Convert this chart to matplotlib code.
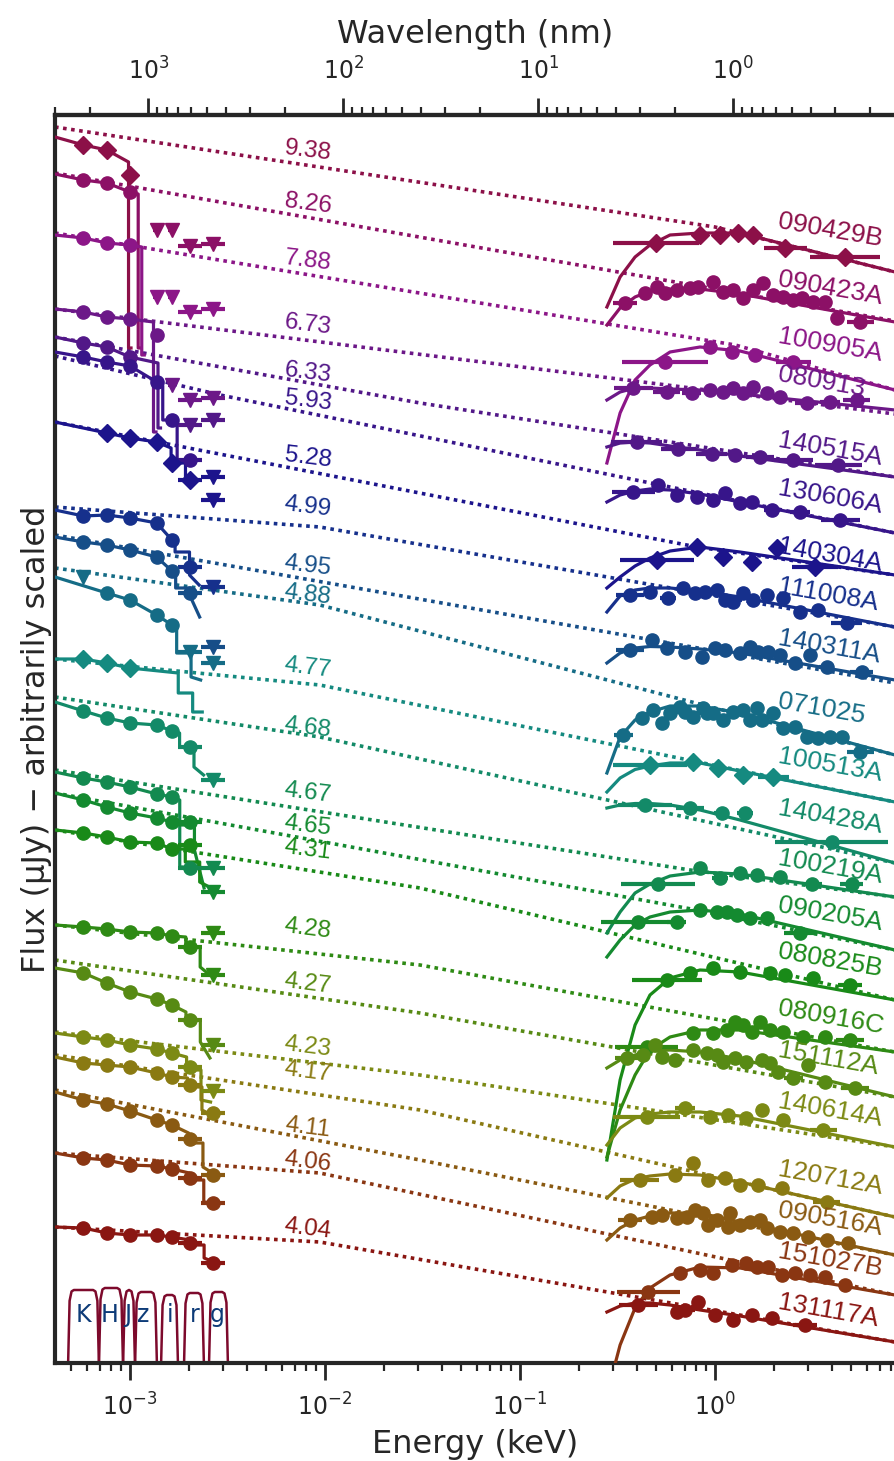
import numpy as np
import matplotlib
matplotlib.use("Agg")
import matplotlib.pyplot as plt

# ------------------------------------------------------------------ data
NAMES = ['090429B', '090423A', '100905A', '080913', '140515A', '130606A',
         '140304A', '111008A', '140311A', '071025', '100513A', '140428A',
         '100219A', '090205A', '080825B', '080916C', '151112A', '140614A',
         '120712A', '090516A', '151027B', '131117A']
REDSHIFTS = [9.38, 8.26, 7.88, 6.73, 6.33, 5.93, 5.28, 4.99, 4.95, 4.88, 4.77,
             4.68, 4.67, 4.65, 4.31, 4.28, 4.27, 4.23, 4.17, 4.11, 4.06, 4.04]
COLORS = ['#8c1048', '#8c1066', '#8c1688', '#6c1888', '#521888', '#37158a',
          '#1c148c', '#16308c', '#164e88', '#156c86', '#158a80', '#138a68',
          '#138a50', '#148a30', '#198a18', '#2e8a14', '#578a14', '#7c8a14',
          '#8a7a12', '#8a5a12', '#8a3612', '#8a1612']
MARKERS = ['D', 'o', 'o', 'o', 'o', 'o', 'D', 'o', 'o', 'o', 'D', 'o',
           'o', 'o', 'o', 'o', 'o', 'o', 'o', 'o', 'o', 'o']

# GROND filters (energy in keV)
FILTERS = ['K', 'H', 'J', 'z', 'i', 'r', 'g']
FILT_E = [5.77e-4, 7.6e-4, 1.0e-3, 1.37e-3, 1.64e-3, 2.03e-3, 2.67e-3]
FILT_HALFWIDTH = [0.0, 0.0, 0.0, 0.02, 0.02, 0.062, 0.06]   # dex
FILT_LO = [4.81e-4, 6.93e-4, 9.21e-4, 1.061e-3, 1.442e-3, 1.891e-3, 2.54e-3]
FILT_HI = [6.93e-4, 9.21e-4, 1.061e-3, 1.375e-3, 1.763e-3, 2.395e-3, 3.18e-3]
FILT_TOP = [0.72, 0.74, 0.72, 0.70, 0.67, 0.69, 0.70]
FILT_LABEL_E = [5.74e-4, 7.9e-4, 9.77e-4, 1.166e-3, 1.604e-3, 2.155e-3, 2.79e-3]

# optical/NIR photometry per burst: (filter index, scaled log flux, upper limit)
OPT = [
    [(0, 12.17, 0), (1, 12.12, 0), (2, 11.87, 0)],
    [(0, 11.82, 0), (1, 11.79, 0), (2, 11.70, 0), (3, 11.32, 1), (4, 11.32, 1), (5, 11.16, 1), (6, 11.18, 1)],
    [(0, 11.24, 0), (1, 11.19, 0), (2, 11.17, 0), (3, 10.65, 1), (4, 10.65, 1), (5, 10.50, 1), (6, 10.53, 1)],
    [(0, 10.50, 0), (1, 10.45, 0), (2, 10.43, 0), (3, 10.27, 0), (4, 9.77, 1), (5, 9.62, 1), (6, 9.64, 1)],
    [(0, 10.19, 0), (1, 10.15, 0), (2, 10.05, 0), (5, 9.37, 1), (6, 9.42, 1)],
    [(0, 10.05, 0), (1, 10.00, 0), (2, 9.96, 0), (3, 9.80, 0), (4, 9.42, 0), (5, 9.02, 0)],
    [(1, 9.29, 0), (2, 9.24, 0), (3, 9.20, 0), (4, 8.99, 0), (5, 8.82, 0), (6, 8.85, 1), (6, 8.62, 1)],
    [(0, 8.46, 0), (1, 8.47, 0), (2, 8.44, 0), (3, 8.39, 0), (4, 8.22, 0), (5, 7.95, 0), (6, 7.75, 1)],
    [(0, 8.20, 0), (1, 8.17, 0), (2, 8.12, 0), (3, 8.05, 0), (4, 7.91, 0), (5, 7.69, 0), (6, 7.15, 1)],
    [(0, 7.85, 1), (1, 7.69, 0), (2, 7.62, 0), (3, 7.47, 0), (4, 7.37, 0), (5, 7.10, 1), (6, 6.99, 1)],
    [(0, 7.03, 0), (1, 6.99, 0), (2, 6.94, 0)],
    [(0, 6.51, 0), (1, 6.44, 0), (2, 6.39, 0), (3, 6.37, 0), (4, 6.31, 0), (5, 6.15, 0), (6, 5.82, 1)],
    [(0, 5.84, 0), (1, 5.80, 0), (2, 5.75, 0), (3, 5.68, 0), (4, 5.65, 0), (5, 4.94, 0), (6, 4.94, 1)],
    [(0, 5.62, 0), (1, 5.55, 0), (2, 5.49, 0), (3, 5.44, 0), (4, 5.40, 0), (5, 5.40, 0), (6, 4.70, 1)],
    [(0, 5.29, 0), (1, 5.25, 0), (2, 5.20, 0), (3, 5.19, 0), (4, 5.13, 0), (5, 5.17, 0)],
    [(0, 4.35, 0), (1, 4.33, 0), (2, 4.30, 0), (3, 4.29, 0), (4, 4.26, 0), (5, 4.15, 0), (6, 4.29, 1), (6, 3.87, 1)],
    [(0, 3.89, 0), (1, 3.79, 0), (2, 3.70, 0), (3, 3.63, 0), (4, 3.57, 0), (5, 3.42, 0), (6, 3.17, 1)],
    [(0, 3.25, 0), (1, 3.22, 0), (2, 3.17, 0), (3, 3.13, 0), (4, 3.09, 0), (5, 2.95, 0), (6, 2.71, 1)],
    [(0, 2.99, 0), (1, 2.97, 0), (2, 2.95, 0), (3, 2.89, 0), (4, 2.85, 0), (5, 2.77, 0), (6, 2.49, 0)],
    [(0, 2.62, 0), (1, 2.58, 0), (2, 2.51, 0), (3, 2.42, 0), (4, 2.37, 0), (5, 2.23, 0), (6, 1.87, 0)],
    [(0, 2.04, 0), (1, 2.02, 0), (2, 1.97, 0), (3, 1.96, 0), (4, 1.93, 0), (5, 1.84, 0), (6, 1.59, 0)],
    [(0, 1.34, 0), (1, 1.29, 0), (2, 1.27, 0), (3, 1.27, 0), (4, 1.25, 0), (5, 1.19, 0), (6, 0.99, 0)],
]

# optical model: value at left edge, just below Ly-alpha, after Ly-alpha, after Ly-beta, end
OPT_MODEL = [
    (12.25, 12.00, 10.14, None, None), (11.88, 11.68, 10.14, None, None),
    (11.27, 11.15, 10.07, None, None), (10.53, 10.40, 9.30, None, None),
    (10.25, 9.99, 9.34, None, None), (10.10, 9.76, 9.42, 9.02, None),
    (9.40, 9.14, 8.99, 8.82, None), (8.52, 8.18, 8.10, 7.87, 7.77),
    (8.25, 7.88, 7.74, 7.66, 7.45), (7.85, 7.32, 7.09, 6.85, 6.82),
    (7.03, 6.89, 6.69, 6.50, 6.50), (6.60, 6.29, 6.15, 5.95, 5.87),
    (5.90, 5.62, 4.95, None, None), (5.69, 5.40, 5.37, 5.12, 4.74),
    (5.32, 5.13, 5.00, 4.80, 4.75), (4.37, 4.25, 4.15, 3.95, 3.87),
    (3.94, 3.50, 3.42, 3.20, 3.04), (3.29, 3.05, 2.92, 2.62, 2.60),
    (3.05, 2.84, 2.75, 2.52, 2.47), (2.70, 2.29, 2.19, 1.95, 1.89),
    (2.09, 1.89, 1.82, 1.60, 1.59), (1.35, 1.22, 1.17, 1.04, 1.00),
]

# intrinsic (unabsorbed) broken power law: left value, break energy, break value, right value
DOTTED = [
    (12.35, 1.0, 11.35, 10.90), (11.89, 1.0, 10.73, 10.41),
    (11.29, 1.27, 10.17, 9.72), (10.53, 1.0, 9.71, 9.48),
    (10.25, 0.0307, 9.59, 8.85), (10.06, 2.9e-3, 9.67, 8.29),
    (9.40, 0.808, 8.15, 7.87), (8.55, 9.4e-3, 8.35, 7.35),
    (8.27, 1.0, 7.11, 6.79), (7.94, 9.4e-3, 7.57, 6.07),
    (7.03, 9.4e-3, 6.77, 5.60), (6.65, 9.4e-3, 6.25, 4.99),
    (5.92, 0.745, 4.92, 4.65), (5.69, 0.806, 4.52, 4.12),
    (5.32, 0.0307, 4.74, 3.62), (4.37, 0.0307, 3.97, 3.10),
    (4.02, 0.0307, 3.49, 2.65), (3.30, 0.0307, 2.87, 2.15),
    (3.07, 0.0307, 2.52, 1.45), (2.72, 0.0307, 2.02, 1.07),
    (2.09, 9.4e-3, 1.89, 0.67), (1.35, 9.4e-3, 1.20, 0.20),
]

# absorbed X-ray model sampled at these energies (keV)
XM_E = [0.279, 0.326, 0.389, 0.464, 0.588, 0.838, 1.343, 8.375]
XMOD = [
    [10.55, 10.85, 11.05, 11.17, 11.27, 11.29, 11.29, 10.90],
    [10.37, 10.54, 10.65, 10.71, 10.73, 10.73, 10.68, 10.40],
    [8.99, 9.49, 9.82, 9.97, 10.10, 10.15, 10.11, 9.72],
    [9.62, 9.70, 9.74, 9.74, 9.73, 9.72, 9.68, 9.52],
    [9.15, 9.19, 9.20, 9.19, 9.16, 9.12, 9.06, 8.85],
    [8.60, 8.67, 8.71, 8.73, 8.72, 8.68, 8.60, 8.29],
    [7.74, 7.85, 7.96, 8.04, 8.11, 8.15, 8.10, 7.87],
    [7.50, 7.66, 7.72, 7.74, 7.74, 7.71, 7.65, 7.35],
    [6.99, 7.09, 7.14, 7.155, 7.15, 7.13, 7.09, 6.82],
    [5.89, 6.25, 6.42, 6.50, 6.56, 6.56, 6.49, 6.07],
    [5.70, 5.84, 5.925, 5.96, 5.99, 5.99, 5.91, 5.60],
    [5.54, 5.57, 5.585, 5.585, 5.57, 5.52, 5.42, 4.99],
    [4.29, 4.50, 4.69, 4.78, 4.86, 4.90, 4.88, 4.65],
    [4.05, 4.22, 4.37, 4.45, 4.50, 4.52, 4.48, 4.12],
    [2.02, 2.82, 3.37, 3.67, 3.84, 3.92, 3.90, 3.62],
    [2.05, 2.52, 2.87, 3.12, 3.25, 3.32, 3.32, 3.10],
    [2.94, 3.02, 3.07, 3.11, 3.12, 3.10, 3.03, 2.65],
    [2.17, 2.34, 2.44, 2.48, 2.50, 2.50, 2.46, 2.15],
    [1.64, 1.76, 1.83, 1.86, 1.88, 1.87, 1.80, 1.45],
    [1.22, 1.34, 1.42, 1.46, 1.49, 1.49, 1.40, 1.07],
    [-0.33, 0.17, 0.54, 0.74, 0.87, 0.95, 0.94, 0.67],
    [0.50, 0.56, 0.59, 0.59, 0.57, 0.52, 0.46, 0.20],
]

# X-ray data: energy (keV), scaled log flux, bin half-width (dex)
XR_E = [
    [0.50, 0.84, 1.06, 1.31, 1.57, 2.29, 4.65],
    [0.345, 0.438, 0.503, 0.554, 0.636, 0.745, 0.821, 0.980, 1.103, 1.241, 1.397, 1.572, 1.769, 1.990, 2.240, 2.519, 2.78, 3.19, 3.66, 4.21, 5.55],
    [0.554, 0.943, 1.218, 1.604, 2.52],
    [0.381, 0.565, 0.759, 0.943, 1.103, 1.241, 1.397, 1.572, 1.84, 2.155, 2.95, 3.89, 5.32],
    [0.397, 0.648, 0.961, 1.267, 1.70, 2.52, 4.29],
    [0.381, 0.512, 0.636, 0.806, 0.980, 1.125, 1.343, 1.542, 1.954, 2.73, 4.38],
    [0.503, 0.806, 1.103, 1.542, 2.07, 3.26],
    [0.367, 0.464, 0.576, 0.689, 0.790, 0.889, 1.02, 1.125, 1.241, 1.397, 1.572, 1.84, 2.24, 2.73, 3.39, 4.74],
    [0.367, 0.474, 0.565, 0.702, 0.855, 1.0, 1.125, 1.343, 1.512, 1.665, 1.87, 2.155, 2.574, 3.07, 3.73, 5.64],
    [0.339, 0.42, 0.483, 0.532, 0.588, 0.662, 0.702, 0.774, 0.871, 0.907, 0.98, 1.103, 1.241, 1.397, 1.512, 1.636, 1.735, 1.99, 2.24, 2.574, 2.95, 3.39, 3.89, 4.46, 5.55],
    [0.464, 0.774, 1.04, 1.397, 1.99],
    [0.438, 0.745, 1.08, 1.425, 3.96],
    [0.512, 0.838, 1.061, 1.343, 1.636, 2.155, 3.14, 5.02],
    [0.405, 0.636, 0.838, 1.02, 1.148, 1.292, 1.512, 1.84, 2.73],
    [0.565, 0.745, 0.98, 1.343, 1.915, 2.287, 3.19, 4.93],
    [0.446, 0.774, 0.98, 1.148, 1.267, 1.397, 1.542, 1.70, 1.915, 2.24, 2.84, 3.67, 4.93],
    [0.353, 0.429, 0.492, 0.532, 0.624, 0.774, 0.907, 1.02, 1.103, 1.267, 1.448, 1.735, 1.915, 2.11, 2.52, 3.01, 3.67, 5.23],
    [0.446, 0.702, 0.943, 1.17, 1.448, 1.735, 2.24, 3.6],
    [0.412, 0.624, 0.774, 0.925, 1.125, 1.343, 1.67, 2.2, 3.74],
    [0.367, 0.474, 0.532, 0.636, 0.718, 0.790, 0.871, 0.925, 1.02, 1.17, 1.194, 1.343, 1.512, 1.70, 1.84, 2.155, 2.52, 3.0, 3.74, 4.83],
    [0.455, 0.662, 0.838, 0.98, 1.218, 1.448, 1.636, 1.87, 2.2, 2.574, 3.07, 3.67, 4.65],
    [0.405, 0.636, 0.702, 0.821, 1.0, 1.241, 1.542, 1.954, 2.897],
]
XR_V = [
    [11.19, 11.27, 11.27, 11.29, 11.27, 11.14, 11.05],
    [10.59, 10.69, 10.75, 10.69, 10.72, 10.74, 10.75, 10.80, 10.70, 10.72, 10.64, 10.72, 10.79, 10.67, 10.65, 10.62, 10.64, 10.60, 10.60, 10.44, 10.40],
    [10.00, 10.15, 10.10, 10.07, 10.00],
    [9.74, 9.70, 9.69, 9.72, 9.70, 9.74, 9.69, 9.75, 9.69, 9.65, 9.59, 9.60, 9.62],
    [9.20, 9.13, 9.08, 9.07, 9.05, 9.02, 8.97],
    [8.70, 8.77, 8.67, 8.65, 8.62, 8.69, 8.59, 8.60, 8.52, 8.50, 8.42],
    [8.02, 8.15, 8.05, 8.00, 8.14, 7.95],
    [7.67, 7.70, 7.64, 7.74, 7.69, 7.70, 7.72, 7.62, 7.60, 7.69, 7.62, 7.67, 7.64, 7.50, 7.52, 7.39],
    [7.12, 7.22, 7.14, 7.10, 7.05, 7.14, 7.12, 7.09, 7.15, 7.10, 7.10, 7.07, 6.99, 7.07, 6.95, 6.90],
    [6.27, 6.44, 6.52, 6.39, 6.49, 6.55, 6.50, 6.45, 6.54, 6.49, 6.49, 6.42, 6.50, 6.52, 6.42, 6.54, 6.42, 6.49, 6.34, 6.35, 6.25, 6.24, 6.25, 6.25, 6.10],
    [5.97, 6.00, 5.94, 5.87, 5.85],
    [5.57, 5.54, 5.49, 5.49, 5.20],
    [4.78, 4.94, 4.84, 4.89, 4.87, 4.85, 4.78, 4.78],
    [4.40, 4.40, 4.52, 4.50, 4.50, 4.47, 4.44, 4.44, 4.29],
    [3.82, 3.89, 3.94, 3.90, 3.89, 3.87, 3.84, 3.77],
    [3.15, 3.29, 3.29, 3.32, 3.40, 3.37, 3.30, 3.40, 3.32, 3.30, 3.25, 3.25, 3.22],
    [3.04, 3.07, 3.17, 3.05, 3.02, 3.12, 3.09, 3.07, 3.00, 3.04, 3.00, 3.02, 2.99, 2.90, 2.84, 2.97, 2.80, 2.74],
    [2.45, 2.54, 2.45, 2.47, 2.44, 2.52, 2.42, 2.32],
    [1.82, 1.87, 1.99, 1.82, 1.84, 1.77, 1.77, 1.74, 1.60],
    [1.42, 1.45, 1.47, 1.44, 1.45, 1.52, 1.49, 1.37, 1.42, 1.35, 1.49, 1.37, 1.40, 1.42, 1.34, 1.30, 1.29, 1.25, 1.22, 1.19],
    [0.70, 0.89, 0.92, 0.89, 0.97, 0.99, 0.95, 0.95, 0.87, 0.89, 0.87, 0.85, 0.77],
    [0.57, 0.50, 0.52, 0.60, 0.47, 0.42, 0.47, 0.44, 0.37],
]
XR_DW = [
    [0.22, 0, 0, 0, 0, 0.11, 0.18],
    [0.06] + [0] * 19 + [0.07],
    [0.22, 0, 0, 0, 0.09],
    [0.1, 0.07, 0.05, 0, 0, 0, 0, 0, 0, 0, 0.06, 0.05, 0.07],
    [0.13, 0.09, 0.08, 0, 0.07, 0.1, 0.12],
    [0.11, 0, 0, 0, 0, 0, 0, 0, 0.04, 0.05, 0.1],
    [0.19, 0, 0, 0, 0, 0.12],
    [0.07, 0, 0.04] + [0] * 12 + [0.08],
    [0.07] + [0] * 13 + [0.04, 0.06],
    [0.05] + [0] * 23 + [0.07],
    [0.19, 0, 0, 0, 0.08],
    [0.14, 0.07, 0.04, 0.04, 0.29],
    [0.19, 0, 0.04, 0, 0, 0, 0.05, 0.06],
    [0.19, 0.05, 0, 0, 0, 0, 0, 0, 0.08],
    [0.18, 0, 0, 0, 0, 0, 0, 0.06],
    [0.16] + [0] * 11 + [0.07],
    [0.06] + [0] * 13 + [0.05, 0, 0, 0.07],
    [0.17, 0.05, 0, 0, 0, 0, 0, 0.07],
    [0.1, 0, 0, 0, 0, 0, 0, 0, 0.07],
    [0.06] + [0] * 19,
    [0.16] + [0] * 12,
    [0.1, 0, 0.05, 0, 0, 0, 0, 0, 0.06],
]

# label placement (scaled log flux of label centres)
NAME_Y = [11.32, 10.74, 10.17, 9.79, 9.13, 8.65, 8.07, 7.67, 7.15, 6.52, 5.97,
          5.45, 4.95, 4.48, 4.02, 3.45, 3.03, 2.52, 1.84, 1.43, 1.02, 0.51]
ZLAB_Y = [12.11, 11.58, 11.01, 10.37, 9.89, 9.61, 9.04, 8.55, 7.96, 7.67, 6.94,
          6.34, 5.69, 5.36, 5.12, 4.33, 3.78, 3.15, 2.90, 2.34, 2.00, 1.33]

LYA_KEV = 0.0102    # Ly-alpha rest energy
LYB_KEV = 0.01209   # Ly-beta rest energy
HC = 1.23984        # keV nm

E_LEFT, E_RIGHT = 4.124e-4, 8.375

# ------------------------------------------------------------------ figure
plt.rcParams['font.family'] = ['DejaVu Sans']
DARK = '#262626'
LABEL_FONT = ['Liberation Sans', 'DejaVu Sans']
fig = plt.figure(figsize=(8.95, 14.61), dpi=100)
ax = fig.add_axes([55 / 895, 98 / 1461, 840 / 895, 1248 / 1461])
ax.set_xscale('log')
ax.set_xlim(E_LEFT, E_RIGHT)
ax.set_ylim(-0.01, 12.47)

for k, name in enumerate(NAMES):
    c = COLORS[k]
    z = REDSHIFTS[k]
    lya = LYA_KEV / (1 + z)
    lyb = LYB_KEV / (1 + z)

    # intrinsic model (dotted)
    L, eb, vb, R = DOTTED[k]
    ax.plot([E_LEFT, eb, E_RIGHT], [L, vb, R], ls=(0, (1, 1.25)), lw=2.6,
            color=c, zorder=2, dash_capstyle='butt')

    # optical absorbed model
    m0, ml, ya, yb, ye = OPT_MODEL[k]
    det = sorted((FILT_E[f], v) for f, v, ul in OPT[k] if not ul and FILT_E[f] < lya)
    xs = [E_LEFT] + [e for e, _ in det] + [lya, lya]
    ys = [m0] + [v for _, v in det] + [ml, ya]
    if yb is None:
        xs += [lya * 1.03]
        ys += [ya]
    else:
        xs += [lyb, lyb, lyb * 1.12]
        ys += [ya, yb, ye if ye is not None else yb]
    ax.plot(xs, ys, color=c, lw=2.3, zorder=3, solid_joinstyle='round')

    # X-ray absorbed model
    ax.plot(XM_E, XMOD[k], color=c, lw=2.3, zorder=3)

    # optical points
    for f, v, ul in OPT[k]:
        e = FILT_E[f]
        mk = 'v' if ul else MARKERS[k]
        hw = FILT_HALFWIDTH[f] if (f >= 5 or ul) else 0.0
        xerr = [[e - e / 10 ** hw], [e * 10 ** hw - e]] if hw > 0 else None
        ax.errorbar([e], [v], xerr=xerr, fmt=mk, ms=9.5 if mk != 'D' else 9,
                    color=c, mec=c, elinewidth=3, capsize=0, zorder=4)

    # X-ray points
    E = np.array(XR_E[k])
    V = np.array(XR_V[k])
    dw = np.array(XR_DW[k], dtype=float)
    ax.errorbar(E, V, xerr=[E - E / 10 ** dw, E * 10 ** dw - E], fmt=MARKERS[k],
                ms=9.5 if MARKERS[k] != 'D' else 9, color=c, mec=c,
                elinewidth=3, capsize=0, zorder=4)

    # labels
    ax.text(8.18e-3, ZLAB_Y[k], f'{z:.2f}', color=c, fontsize=17.5,
            family=LABEL_FONT, rotation=-7, ha='center', va='center', zorder=5)
    ax.text(2.10, NAME_Y[k] + 0.09, name, color=c, fontsize=19,
            family=LABEL_FONT, rotation=-10, rotation_mode='anchor',
            ha='left', va='center', zorder=5)

# filter transmission curves
for f, lab in enumerate(FILTERS):
    lo, hi, top = FILT_LO[f], FILT_HI[f], FILT_TOP[f]
    fx = [lo, lo * 10 ** 0.008, lo * 10 ** 0.018, lo * 10 ** 0.03,
          hi / 10 ** 0.03, hi / 10 ** 0.018, hi / 10 ** 0.008, hi]
    fy = [-0.05, top * 0.85, top * 0.98, top, top, top * 0.98, top * 0.85, -0.05]
    ax.plot(fx, fy, color='#7d0a2c', lw=1.8, zorder=2)
    ax.text(FILT_LABEL_E[f], 0.47, lab, color='#0d3b78', fontsize=17,
            ha='center', va='center', zorder=5)

# axes styling
for s in ['left', 'bottom', 'top']:
    ax.spines[s].set_linewidth(3)
    ax.spines[s].set_color(DARK)
ax.spines['right'].set_visible(False)
ax.set_yticks([])
ax.tick_params(axis='x', which='major', length=12, width=2, color=DARK,
               labelsize=17, labelcolor=DARK, pad=10, direction='out')
ax.tick_params(axis='x', which='minor', length=6, width=1.6, color=DARK,
               direction='out')
ax.set_xlabel('Energy (keV)', fontsize=23, color=DARK, labelpad=6)
ax.set_ylabel('Flux (μJy) − arbitrarily scaled', fontsize=23, color=DARK,
              labelpad=2)

# wavelength axis on top
top_ax = ax.twiny()
top_ax.set_xscale('log')
top_ax.set_xlim(HC / E_LEFT, HC / E_RIGHT)
for s in ['left', 'bottom', 'right']:
    top_ax.spines[s].set_visible(False)
top_ax.spines['top'].set_linewidth(3)
top_ax.spines['top'].set_color(DARK)
top_ax.tick_params(axis='x', which='major', length=12, width=2, color=DARK,
                   labelsize=17, labelcolor=DARK, pad=10)
top_ax.tick_params(axis='x', which='minor', length=6, width=1.6, color=DARK)
top_ax.set_xlabel('Wavelength (nm)', fontsize=23, color=DARK, labelpad=10)

fig.savefig('out.png', dpi=100)
